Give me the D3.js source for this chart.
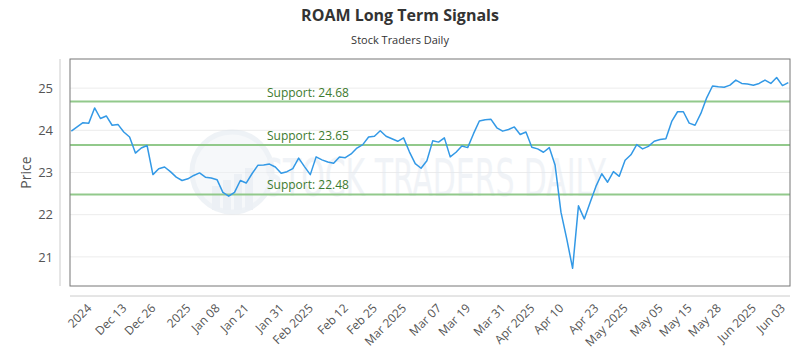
<!DOCTYPE html>
<html>
<head>
<meta charset="utf-8">
<script src="https://cdn.jsdelivr.net/npm/d3@7"></script>
<style>
  body { margin: 0; background: #fff; }
  svg { font-family: "Open Sans", sans-serif; }
</style>
</head>
<body>
<div id="chart"></div>
<script>
// ROAM closing prices, one per trading day
const prices = [
  23.98, 24.08, 24.18, 24.17, 24.53, 24.28, 24.34, 24.12, 24.14, 23.96,
  23.84, 23.46, 23.58, 23.64, 22.95, 23.09, 23.13, 23.02, 22.89, 22.81,
  22.85, 22.93, 22.99, 22.89, 22.87, 22.83, 22.53, 22.44, 22.53, 22.81,
  22.75, 22.97, 23.17, 23.18, 23.20, 23.13, 22.98, 23.02, 23.09, 23.34,
  23.14, 22.95, 23.37, 23.30, 23.25, 23.22, 23.37, 23.35, 23.44, 23.58,
  23.66, 23.84, 23.86, 23.99, 23.86, 23.80, 23.74, 23.82, 23.49, 23.21,
  23.10, 23.28, 23.75, 23.72, 23.82, 23.37, 23.48, 23.63, 23.59, 23.92,
  24.22, 24.25, 24.26, 24.06, 23.98, 24.02, 24.08, 23.90, 23.96, 23.60,
  23.56, 23.48, 23.59, 23.17, 22.06, 21.42, 20.73, 22.21, 21.90, 22.29,
  22.67, 22.97, 22.77, 23.02, 22.91, 23.29, 23.42, 23.66, 23.56, 23.62,
  23.74, 23.78, 23.80, 24.21, 24.44, 24.44, 24.17, 24.12, 24.40, 24.77,
  25.05, 25.03, 25.02, 25.07, 25.19, 25.11, 25.10, 25.07, 25.11, 25.19,
  25.11, 25.25, 25.06, 25.13
];

const tickLabels = ["2024", "Dec 13", "Dec 26", "2025", "Jan 08", "Jan 21", "Jan 31",
  "Feb 2025", "Feb 12", "Feb 25", "Mar 2025", "Mar 07", "Mar 19", "Mar 31",
  "Apr 2025", "Apr 10", "Apr 23", "May 2025", "May 05", "May 15", "May 28",
  "Jun 2025", "Jun 03"];
const tickIdx = [3, 9, 14, 20, 25, 30, 36, 41, 47, 52, 57, 63, 68, 74, 79, 84, 90, 95, 101, 106, 111, 117, 122];

const supports = [24.68, 23.65, 22.48];
const yTicks = [21, 22, 23, 24, 25];

const width = 800, height = 350;
const plot = { left: 70, right: 790, top: 59, bottom: 286 };

const svg = d3.select("#chart").append("svg")
  .attr("width", width)
  .attr("height", height);

const x = d3.scaleLinear()
  .domain([0, prices.length - 1])
  .range([plot.left + 1.3, plot.right - 1.7]);

const y = d3.scaleLinear()
  .domain([20.31, 25.69])
  .range([plot.bottom, plot.top]);

// title
svg.append("text")
  .attr("x", 400).attr("y", 21)
  .attr("text-anchor", "middle")
  .style("font-size", "16px").style("font-weight", "bold")
  .style("fill", "#333")
  .text("ROAM Long Term Signals");

svg.append("text")
  .attr("x", 400).attr("y", 44)
  .attr("text-anchor", "middle")
  .style("font-size", "11px")
  .style("fill", "#333")
  .text("Stock Traders Daily");

// grid lines
svg.append("g")
  .selectAll("line")
  .data(yTicks)
  .join("line")
  .attr("x1", plot.left).attr("x2", plot.right)
  .attr("y1", d => y(d)).attr("y2", d => y(d))
  .attr("stroke", "#ececec");

// watermark
const wm = svg.append("g").attr("opacity", 0.5);
wm.append("circle")
  .attr("cx", 232).attr("cy", 172).attr("r", 40)
  .attr("fill", "#eef2f7").attr("stroke", "#dfe6ee").attr("stroke-width", 5);
wm.selectAll("rect.bar")
  .data([0, 1, 2, 3])
  .join("rect")
  .attr("x", d => 212 + d * 11)
  .attr("y", d => 186 - d * 6)
  .attr("width", 8)
  .attr("height", d => 24 + d * 6)
  .attr("fill", "#dbe3ec");
wm.append("text")
  .attr("x", 264).attr("y", 196)
  .attr("textLength", 342)
  .attr("lengthAdjust", "spacingAndGlyphs")
  .style("font-family", "'DejaVu Sans Condensed', 'Roboto', sans-serif")
  .style("font-size", "52px")
  .style("fill", "#e3e9f0")
  .text("STOCK TRADERS DAILY");

// support lines
const sup = svg.append("g");
sup.selectAll("line")
  .data(supports)
  .join("line")
  .attr("x1", plot.left).attr("x2", plot.right)
  .attr("y1", d => y(d)).attr("y2", d => y(d))
  .attr("stroke", "#92c98b").attr("stroke-width", 2);
sup.selectAll("text")
  .data(supports)
  .join("text")
  .attr("x", 267)
  .attr("y", d => y(d) - 5)
  .style("font-size", "12px")
  .style("fill", "#3d7a2e")
  .text(d => "Support: " + d.toFixed(2));

// price line
svg.append("path")
  .datum(prices)
  .attr("fill", "none")
  .attr("stroke", "#3399e6")
  .attr("stroke-width", 1.5)
  .attr("stroke-linejoin", "round")
  .attr("d", d3.line().x((d, i) => x(i)).y(d => y(d)));

// frame
svg.append("rect")
  .attr("x", plot.left).attr("y", plot.top)
  .attr("width", plot.right - plot.left)
  .attr("height", plot.bottom - plot.top)
  .attr("fill", "none")
  .attr("stroke", "#777");

// y axis (offset)
const yAxis = svg.append("g")
  .attr("transform", `translate(60,0)`)
  .call(d3.axisLeft(y).tickValues(yTicks).tickSize(0).tickPadding(7).tickFormat(d3.format("d")));
yAxis.select(".domain").attr("stroke", "#ccc").attr("d", `M0,${plot.top}V${plot.bottom}`);
yAxis.selectAll("text")
  .style("font-size", "13px").style("fill", "#555")
  .style("font-family", "'Open Sans', sans-serif");

svg.append("text")
  .attr("transform", `translate(31,${(plot.top + plot.bottom) / 2}) rotate(-90)`)
  .attr("text-anchor", "middle")
  .style("font-size", "14px").style("fill", "#555")
  .text("Price");

// x axis (offset)
const xAxis = svg.append("g")
  .attr("transform", `translate(0,296)`)
  .call(d3.axisBottom(x).tickValues(tickIdx).tickSize(0)
    .tickFormat((d, i) => tickLabels[i]));
xAxis.select(".domain").attr("stroke", "#ccc").attr("d", `M${plot.left},0H${plot.right}`);
xAxis.selectAll("text")
  .style("font-size", "12px").style("fill", "#555")
  .style("font-family", "'Open Sans', sans-serif")
  .attr("text-anchor", "end")
  .attr("dy", null)
  .attr("y", 0)
  .attr("transform", "translate(3,13) rotate(-45)");
</script>
</body>
</html>
